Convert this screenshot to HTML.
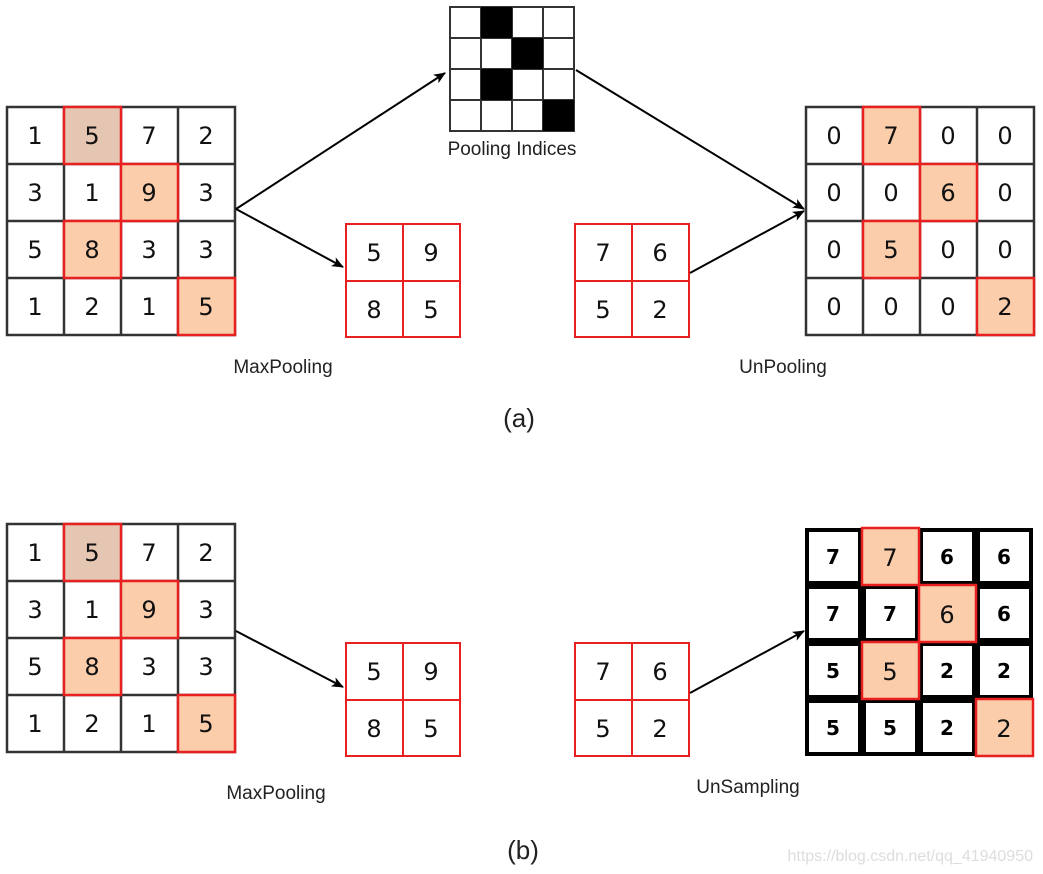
<!DOCTYPE html>
<html><head><meta charset="utf-8"><style>
html,body{margin:0;padding:0;background:#fff;}
svg{display:block;}
.n{font-family:"DejaVu Sans","Liberation Sans",sans-serif;font-size:24px;text-anchor:middle;fill:#111;}
.b{font-family:"DejaVu Sans","Liberation Sans",sans-serif;font-size:20px;font-weight:bold;text-anchor:middle;fill:#000;}
.l{font-family:"Liberation Sans",sans-serif;font-size:19px;text-anchor:middle;fill:#222;}
</style></head><body>
<svg width="1043" height="874" viewBox="0 0 1043 874" xmlns="http://www.w3.org/2000/svg">
<defs><marker id="ar" markerWidth="12" markerHeight="10" refX="11" refY="5" orient="auto" markerUnits="userSpaceOnUse"><path d="M0,0 L12,5 L0,10 L3,5 z" fill="#000"/></marker></defs>

<!-- (a) left grid -->
<g stroke="#333" stroke-width="2.5" fill="#fff">
<rect x="7" y="107" width="228" height="228"/>
<line x1="64" y1="107" x2="64" y2="335"/><line x1="121" y1="107" x2="121" y2="335"/><line x1="178" y1="107" x2="178" y2="335"/>
<line x1="7" y1="164" x2="235" y2="164"/><line x1="7" y1="221" x2="235" y2="221"/><line x1="7" y1="278" x2="235" y2="278"/>
</g>
<g stroke="#e82020" stroke-width="2.5">
<rect x="64" y="107" width="57" height="57" fill="#e4c6b3"/>
<rect x="121" y="164" width="57" height="57" fill="#fbcdab"/>
<rect x="64" y="221" width="57" height="57" fill="#fbcdab"/>
<rect x="178" y="278" width="57" height="57" fill="#fbcdab"/>
</g>
<g class="n">
<text x="35" y="144">1</text><text x="92" y="144">5</text><text x="149" y="144">7</text><text x="206" y="144">2</text>
<text x="35" y="201">3</text><text x="92" y="201">1</text><text x="149" y="201">9</text><text x="206" y="201">3</text>
<text x="35" y="258">5</text><text x="92" y="258">8</text><text x="149" y="258">3</text><text x="206" y="258">3</text>
<text x="35" y="315">1</text><text x="92" y="315">2</text><text x="149" y="315">1</text><text x="206" y="315">5</text>
</g>

<!-- pooling indices -->
<g stroke="#333" stroke-width="2" fill="#fff">
<rect x="450" y="7" width="124" height="124"/>
<line x1="481" y1="7" x2="481" y2="131"/><line x1="512" y1="7" x2="512" y2="131"/><line x1="543" y1="7" x2="543" y2="131"/>
<line x1="450" y1="38" x2="574" y2="38"/><line x1="450" y1="69" x2="574" y2="69"/><line x1="450" y1="100" x2="574" y2="100"/>
</g>
<g fill="#000">
<rect x="481" y="7" width="31" height="31"/><rect x="512" y="38" width="31" height="31"/>
<rect x="481" y="69" width="31" height="31"/><rect x="543" y="100" width="31" height="31"/>
</g>
<text x="512" y="155" class="l" style="font-size:19px">Pooling Indices</text>

<!-- small grids a -->
<g stroke="#e82020" stroke-width="2" fill="#fff">
<rect x="346" y="224" width="114" height="113"/><line x1="403" y1="224" x2="403" y2="337"/><line x1="346" y1="281" x2="460" y2="281"/>
<rect x="575" y="224" width="114" height="113"/><line x1="632" y1="224" x2="632" y2="337"/><line x1="575" y1="281" x2="689" y2="281"/>
</g>
<g class="n">
<text x="374" y="261">5</text><text x="431" y="261">9</text><text x="374" y="318">8</text><text x="431" y="318">5</text>
<text x="603" y="261">7</text><text x="660" y="261">6</text><text x="603" y="318">5</text><text x="660" y="318">2</text>
</g>

<!-- right grid a -->
<g stroke="#333" stroke-width="2.5" fill="#fff">
<rect x="806" y="107" width="228" height="228"/>
<line x1="863" y1="107" x2="863" y2="335"/><line x1="920" y1="107" x2="920" y2="335"/><line x1="977" y1="107" x2="977" y2="335"/>
<line x1="806" y1="164" x2="1034" y2="164"/><line x1="806" y1="221" x2="1034" y2="221"/><line x1="806" y1="278" x2="1034" y2="278"/>
</g>
<g stroke="#e82020" stroke-width="2.5" fill="#fbcdab">
<rect x="863" y="107" width="57" height="57"/><rect x="920" y="164" width="57" height="57"/>
<rect x="863" y="221" width="57" height="57"/><rect x="977" y="278" width="57" height="57"/>
</g>
<g class="n">
<text x="834" y="144">0</text><text x="891" y="144">7</text><text x="948" y="144">0</text><text x="1005" y="144">0</text>
<text x="834" y="201">0</text><text x="891" y="201">0</text><text x="948" y="201">6</text><text x="1005" y="201">0</text>
<text x="834" y="258">0</text><text x="891" y="258">5</text><text x="948" y="258">0</text><text x="1005" y="258">0</text>
<text x="834" y="315">0</text><text x="891" y="315">0</text><text x="948" y="315">0</text><text x="1005" y="315">2</text>
</g>

<!-- arrows a -->
<g stroke="#000" stroke-width="2" fill="none" marker-end="url(#ar)">
<line x1="236" y1="209" x2="445" y2="73"/>
<line x1="236" y1="209" x2="343" y2="267"/>
<line x1="690" y1="273" x2="804" y2="211"/>
<line x1="576" y1="70" x2="804" y2="209"/>
</g>
<text x="283" y="373" class="l">MaxPooling</text>
<text x="783" y="373" class="l">UnPooling</text>
<text x="519" y="427" class="l" style="font-size:26px">(a)</text>

<!-- (b) left grid -->
<g stroke="#333" stroke-width="2.5" fill="#fff">
<rect x="7" y="524" width="228" height="228"/>
<line x1="64" y1="524" x2="64" y2="752"/><line x1="121" y1="524" x2="121" y2="752"/><line x1="178" y1="524" x2="178" y2="752"/>
<line x1="7" y1="581" x2="235" y2="581"/><line x1="7" y1="638" x2="235" y2="638"/><line x1="7" y1="695" x2="235" y2="695"/>
</g>
<g stroke="#e82020" stroke-width="2.5">
<rect x="64" y="524" width="57" height="57" fill="#e4c6b3"/>
<rect x="121" y="581" width="57" height="57" fill="#fbcdab"/>
<rect x="64" y="638" width="57" height="57" fill="#fbcdab"/>
<rect x="178" y="695" width="57" height="57" fill="#fbcdab"/>
</g>
<g class="n">
<text x="35" y="561">1</text><text x="92" y="561">5</text><text x="149" y="561">7</text><text x="206" y="561">2</text>
<text x="35" y="618">3</text><text x="92" y="618">1</text><text x="149" y="618">9</text><text x="206" y="618">3</text>
<text x="35" y="675">5</text><text x="92" y="675">8</text><text x="149" y="675">3</text><text x="206" y="675">3</text>
<text x="35" y="732">1</text><text x="92" y="732">2</text><text x="149" y="732">1</text><text x="206" y="732">5</text>
</g>

<!-- small grids b -->
<g stroke="#e82020" stroke-width="2" fill="#fff">
<rect x="346" y="643" width="114" height="113"/><line x1="403" y1="643" x2="403" y2="756"/><line x1="346" y1="700" x2="460" y2="700"/>
<rect x="575" y="643" width="114" height="113"/><line x1="632" y1="643" x2="632" y2="756"/><line x1="575" y1="700" x2="689" y2="700"/>
</g>
<g class="n">
<text x="374" y="680">5</text><text x="431" y="680">9</text><text x="374" y="737">8</text><text x="431" y="737">5</text>
<text x="603" y="680">7</text><text x="660" y="680">6</text><text x="603" y="737">5</text><text x="660" y="737">2</text>
</g>

<!-- right grid b -->
<g stroke="#000" stroke-width="4" fill="#fff">
<rect x="807" y="530" width="53" height="53"/><rect x="921" y="530" width="53" height="53"/><rect x="978" y="530" width="53" height="53"/>
<rect x="807" y="587" width="53" height="53"/><rect x="864" y="587" width="53" height="53"/><rect x="978" y="587" width="53" height="53"/>
<rect x="807" y="644" width="53" height="53"/><rect x="921" y="644" width="53" height="53"/><rect x="978" y="644" width="53" height="53"/>
<rect x="807" y="701" width="53" height="53"/><rect x="864" y="701" width="53" height="53"/><rect x="921" y="701" width="53" height="53"/>
</g>
<g stroke="#e82020" stroke-width="2.5" fill="#fbcdab">
<rect x="862" y="528" width="57" height="57"/><rect x="919" y="585" width="57" height="57"/>
<rect x="862" y="642" width="57" height="57"/><rect x="976" y="699" width="57" height="57"/>
</g>
<g class="b">
<text x="833" y="564">7</text><text x="947" y="564">6</text><text x="1004" y="564">6</text>
<text x="833" y="621">7</text><text x="890" y="621">7</text><text x="1004" y="621">6</text>
<text x="833" y="678">5</text><text x="947" y="678">2</text><text x="1004" y="678">2</text>
<text x="833" y="735">5</text><text x="890" y="735">5</text><text x="947" y="735">2</text>
</g>
<g class="n">
<text x="890" y="566">7</text><text x="947" y="623">6</text><text x="890" y="680">5</text><text x="1004" y="737">2</text>
</g>

<!-- arrows b -->
<g stroke="#000" stroke-width="2" fill="none" marker-end="url(#ar)">
<line x1="236" y1="631" x2="343" y2="687"/>
<line x1="690" y1="693" x2="804" y2="631"/>
</g>
<text x="276" y="799" class="l">MaxPooling</text>
<text x="748" y="793" class="l">UnSampling</text>
<text x="523" y="859" class="l" style="font-size:26px">(b)</text>
<text x="1033" y="861" style="font-family:'Liberation Sans',sans-serif;font-size:16px;fill:#ddd;text-anchor:end">https://blog.csdn.net/qq_41940950</text>
</svg>
</body></html>
